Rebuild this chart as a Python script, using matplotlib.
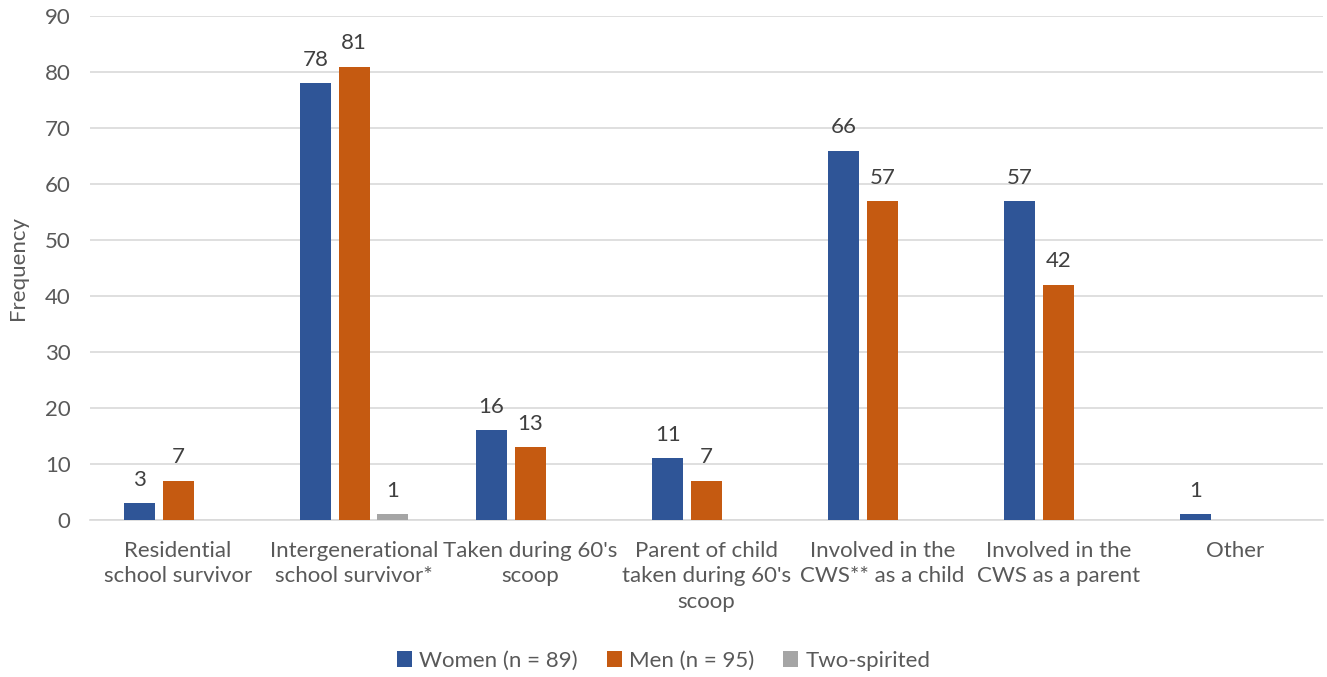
import numpy as np
import matplotlib
matplotlib.use("Agg")
import matplotlib.pyplot as plt

categories = ["Residential\nschool survivor",
              "Intergenerational\nschool survivor*",
              "Taken during 60's\nscoop",
              "Parent of child\ntaken during 60's\nscoop",
              "Involved in the\nCWS** as a child",
              "Involved in the\nCWS as a parent",
              "Other"]
women = [3, 78, 16, 11, 66, 57, 1]
men = [7, 81, 13, 7, 57, 42, 0]
two_spirited = [0, 1, 0, 0, 0, 0, 0]
series = [("Women (n = 89)", women, "#2F5597"),
          ("Men (n = 95)", men, "#C55A11"),
          ("Two-spirited", two_spirited, "#A5A5A5")]

plt.rcParams["font.family"] = ["Lato", "DejaVu Sans"]
fs = 16

fig = plt.figure(figsize=(13.27, 6.77), dpi=100)
ax = fig.add_axes([0.0678, 0.232, 0.929, 0.744])

x = np.arange(len(categories))
width = 0.176
step = 0.22
for i, (name, vals, color) in enumerate(series):
    pos = x + (i - 1) * step
    bars = ax.bar(pos, vals, width=width, color=color, label=name, zorder=3)
    for b, v in zip(bars, vals):
        if v > 0:
            ax.text(b.get_x() + b.get_width() / 2, v + 2.4, str(v),
                    ha="center", va="bottom", fontsize=fs, color="#404040")

ax.set_xlim(-0.5, len(categories) - 0.5)
ax.set_ylim(0, 90)
ax.set_yticks(range(0, 91, 10))
ax.yaxis.grid(True, color="#D9D9D9", linewidth=1.2, zorder=0)
ax.set_axisbelow(True)
for s in ["top", "right", "left"]:
    ax.spines[s].set_visible(False)
ax.spines["bottom"].set_color("#D9D9D9")
ax.spines["bottom"].set_linewidth(1.2)
ax.tick_params(axis="both", length=0, labelsize=fs, colors="#595959")
ax.tick_params(axis="y", pad=14)
ax.tick_params(axis="x", pad=15)
ax.set_xticks(x)
ax.set_xticklabels(categories, va="top", linespacing=1.35)
ax.set_ylabel("Frequency", fontsize=fs, color="#595959", labelpad=12)

fig.legend(loc="center", bbox_to_anchor=(0.5, 0.024), ncol=3, frameon=False,
           fontsize=fs, labelcolor="#595959", handlelength=0.7,
           handleheight=0.7, handletextpad=0.3, columnspacing=1.3)

fig.savefig("out.png", dpi=100)
